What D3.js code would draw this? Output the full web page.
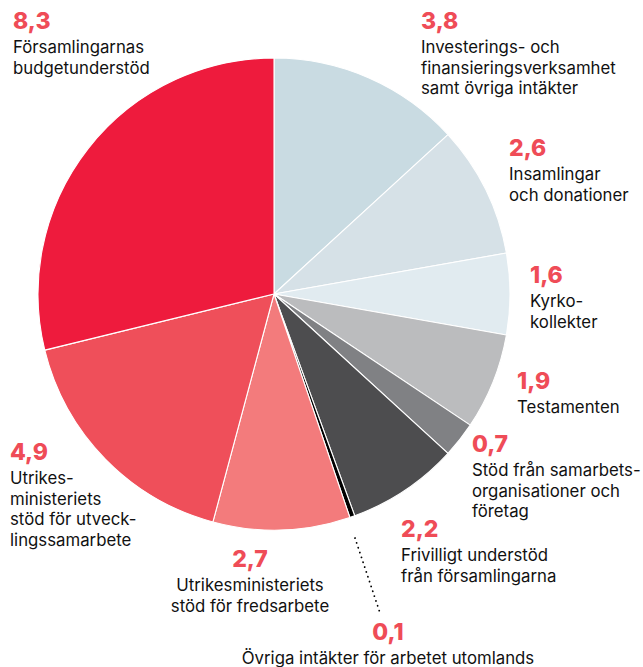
<!DOCTYPE html>
<html>
<head>
<meta charset="utf-8">
<script src="https://cdn.jsdelivr.net/npm/d3@7"></script>
<style>
  body { margin: 0; background: #fff; }
  svg text { font-family: Inter, "Noto Sans", sans-serif; }
</style>
</head>
<body>
<svg id="chart" width="643" height="667"></svg>
<script>
// värden i miljoner kronor, medurs från klockan tolv
var values = [3.8, 2.6, 1.6, 1.9, 0.7, 2.2, 0.1, 2.7, 4.9, 8.3];
var valueLabels = ['3,8', '2,6', '1,6', '1,9', '0,7', '2,2', '0,1', '2,7', '4,9', '8,3'];
var names = [
  ['Investerings- och', 'finansieringsverksamhet', 'samt övriga intäkter'],
  ['Insamlingar', 'och donationer'],
  ['Kyrko-', 'kollekter'],
  ['Testamenten'],
  ['Stöd från samarbets-', 'organisationer och', 'företag'],
  ['Frivilligt understöd', 'från församlingarna'],
  ['Övriga intäkter för arbetet utomlands'],
  ['Utrikesministeriets', 'stöd för fredsarbete'],
  ['Utrikes-', 'ministeriets', 'stöd för utveck-', 'lingssamarbete'],
  ['Församlingarnas', 'budgetunderstöd']
];
var colors = ['#c9dbe2', '#d6e1e7', '#e1ebf0', '#bbbcbe', '#808184', '#4d4d4f', '#000000', '#f37b7c', '#ef4f5a', '#ee1b3d'];

// etikettplacering: x, baslinje för siffran, textankare
var labelPos = [
  [421, 29, 'start'], [509, 156, 'start'], [530, 283, 'start'], [517, 389, 'start'],
  [472, 452, 'start'], [401, 537, 'start'], [388, 640, 'middle'], [250, 567, 'middle'],
  [10, 460, 'start'], [13, 29, 'start']
];

var svg = d3.select('#chart');
var cx = 274, cy = 294, radius = 236;

var pie = d3.pie().sort(null).value(d => d);
var arc = d3.arc().innerRadius(0).outerRadius(radius);

var g = svg.append('g').attr('transform', 'translate(' + cx + ',' + cy + ')');
g.selectAll('path').data(pie(values)).enter().append('path')
  .attr('d', arc)
  .attr('fill', (d, i) => colors[i])
  .attr('stroke', '#fff')
  .attr('stroke-width', 1.1)
  .attr('stroke-linejoin', 'round');

// prickad linje till den minsta posten
svg.append('line')
  .attr('x1', 355).attr('y1', 538).attr('x2', 380).attr('y2', 613)
  .attr('stroke', '#000').attr('stroke-width', 1.8)
  .attr('stroke-dasharray', '0.1 5').attr('stroke-linecap', 'round');

var labels = svg.selectAll('g.lbl').data(values).enter().append('g').attr('class', 'lbl');
labels.append('text')
  .attr('x', (d, i) => labelPos[i][0])
  .attr('y', (d, i) => labelPos[i][1])
  .attr('text-anchor', (d, i) => labelPos[i][2])
  .attr('fill', '#ef4c57')
  .attr('font-size', 23)
  .attr('font-weight', 800)
  .text((d, i) => valueLabels[i]);

labels.each(function (d, i) {
  var t = d3.select(this).append('text')
    .attr('text-anchor', labelPos[i][2])
    .attr('fill', '#111')
    .attr('font-size', 16.8);
  names[i].forEach(function (line, j) {
    t.append('tspan')
      .attr('x', labelPos[i][0])
      .attr('y', labelPos[i][1] + 24 + j * 20.7)
      .text(line);
  });
});
</script>
</body>
</html>
